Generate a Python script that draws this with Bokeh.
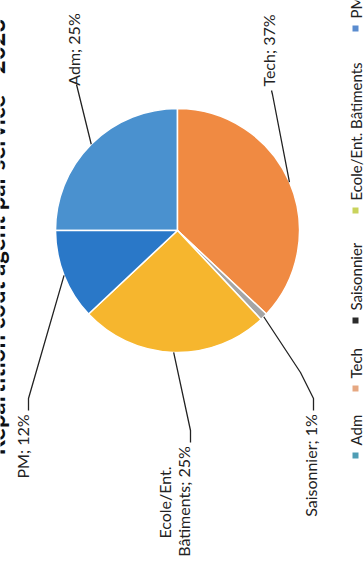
import math
from bokeh.plotting import figure
from bokeh.models import Range1d, ColumnDataSource
from bokeh.core.properties import value
from bokeh.embed import file_html
from bokeh.resources import INLINE

# ---- data ----
categories = ["Adm", "Tech", "Saisonnier", "Ecole/Ent. Bâtiments", "PM"]
shares = [25, 37, 1, 25, 12]
slice_colors = ["#4a91cf", "#f08a42", "#a5a5a5", "#f6b62e", "#2a78c8"]
legend_colors = ["#4f9db4", "#e6a882", "#2b2b2b", "#c9d35c", "#5a8ccf"]
label_lines = [["Adm; 25%"], ["Tech; 37%"], ["Saisonnier; 1%"],
               ["Ecole/Ent.", "Bâtiments; 25%"], ["PM; 12%"]]
title = "Répartition coût agent par service - 2023"

# ---- layout (screen pixels, y downward) ----
W, H = 364, 571
CX, CY, R = 177, 230, 122
FONT = "Lato"
LABEL_SIZE = "16px"

def sy(y):
    return H - y

p = figure(width=W, height=H, output_backend="svg", toolbar_location=None,
           x_range=Range1d(0, W), y_range=Range1d(0, H),
           x_axis_type=None, y_axis_type=None, min_border=0)
p.grid.visible = False
p.outline_line_color = None
p.background_fill_color = "white"
p.border_fill_color = "white"

# pie (starts at left, clockwise — chart rotated 90° CCW)
total = float(sum(shares))
starts, ends, mids = [], [], []
cum = 0.0
for v in shares:
    a0 = math.pi - 2 * math.pi * cum / total
    a1 = math.pi - 2 * math.pi * (cum + v) / total
    starts.append(a0)
    ends.append(a1)
    mids.append((a0 + a1) / 2)
    cum += v

src = ColumnDataSource(dict(start=starts, end=ends, color=slice_colors))
p.wedge(x=CX, y=sy(CY), radius=R, start_angle="start", end_angle="end",
        direction="clock", fill_color="color", line_color="white",
        line_width=1.5, source=src)

# leader lines from slice edge to labels
leader_ends = [
    [(77, 88), (76, 84)],
    [(272, 94), (271, 90)],
    [(300, 372), (313, 398), (313, 410)],
    [(190, 430), (190, 442)],
    [(28, 398), (28, 410)],
]
xs, ys = [], []
for m, pts in zip(mids, leader_ends):
    ex = CX + R * math.cos(m)
    ey = sy(CY) + R * math.sin(m)
    xs.append([ex] + [q[0] for q in pts])
    ys.append([ey] + [sy(q[1]) for q in pts])
p.multi_line(xs=xs, ys=ys, line_color="#222222", line_width=1.3)

# data labels (rotated, centred)
label_pos = [
    [(73, 49)],
    [(268, 50)],
    [(310, 465)],
    [(164, 502), (183, 501)],
    [(22, 446)],
]
lx, ly, lt = [], [], []
for lines, poss in zip(label_lines, label_pos):
    for t, (x, y) in zip(lines, poss):
        lx.append(x); ly.append(sy(y)); lt.append(t)
p.text(x=lx, y=ly, text=lt, angle=math.pi / 2, text_align="center",
       text_baseline="middle", text_font=value(FONT), text_font_size=LABEL_SIZE,
       text_color="#222222")

# legend (rotated)
legend_marker_y = [455, 388, 320, 210, 28]
legend_x = 355
p.scatter(x=[legend_x] * len(categories), y=[sy(v) for v in legend_marker_y],
          marker="square", size=6, fill_color=legend_colors, line_color=None)
p.text(x=[legend_x] * len(categories), y=[sy(v - 10) for v in legend_marker_y],
       text=categories, angle=math.pi / 2, text_align="left",
       text_baseline="middle", text_font=value(FONT), text_font_size="15px",
       text_color="#222222")

# title (rotated, partly cut off at the left edge as in the scan)
p.text(x=[-5], y=[sy(455)], text=[title], angle=math.pi / 2, text_align="left",
       text_baseline="alphabetic", text_font=value(FONT), text_font_size="24px",
       text_font_style="bold", text_color="#111111")

open("out.html", "w").write(file_html(p, INLINE))
